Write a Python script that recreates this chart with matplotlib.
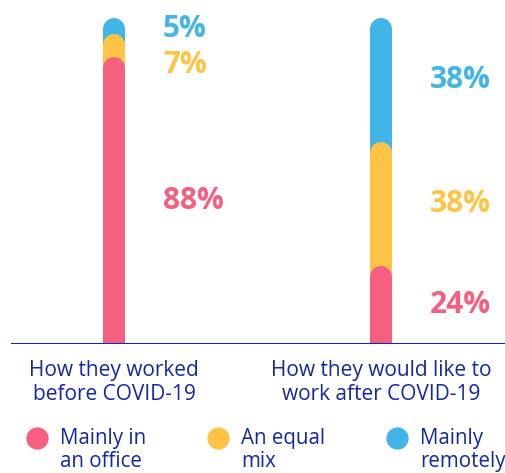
import matplotlib
matplotlib.use("Agg")
import matplotlib.pyplot as plt
from matplotlib.lines import Line2D
import numpy as np

plt.rcParams['font.family'] = ['Open Sans', 'DejaVu Sans']

# share of people by working pattern (%)
groups = ["How they worked\nbefore COVID-19", "How they would like to\nwork after COVID-19"]
series = ["Mainly in\nan office", "An equal\nmix", "Mainly\nremotely"]
office = [88, 24]
mixed = [7, 38]
remote = [5, 38]

colors = ["#f65f7f", "#ffc445", "#41b6e6"]
navy = "#1428a0"

W, H = 505, 473
fig = plt.figure(figsize=(W / 100, H / 100), dpi=100)

# axes placed in pixel terms: baseline at y=344 from the top
bottom_px = H - 344
px_per_unit = 3.26
ytop = 105
ax = fig.add_axes([11 / W, bottom_px / H, (W - 11) / W, ytop * px_per_unit / H])
ax.set_xlim(-103 / 267, 1 + 124 / 267)
ax.set_ylim(0, ytop)
ax.axis("off")
ax.axhline(0, color=navy, lw=2.2, zorder=5)

bar_px = 22
lw = bar_px * 72 / 100
r = (bar_px / 2) / px_per_unit  # cap radius in data units

values = np.array([office, mixed, remote])
tops = np.cumsum(values, axis=0)
bases = tops - values

# longest segment first so each rounded top sits over the one above it
for i in reversed(range(len(series))):
    for j, x in enumerate(range(len(groups))):
        ax.plot([x, x], [-5, tops[i, j] - r], color=colors[i], lw=lw,
                solid_capstyle="round", zorder=2)

# value labels next to each bar
nudge = {(1, 0): -6.0, (2, 0): -1.0}
for i in range(len(series)):
    for j in range(len(groups)):
        y = (bases[i, j] + tops[i, j]) / 2 + nudge.get((i, j), 0)
        ax.text(j + 0.1835, y, f"{values[i, j]}%", color=colors[i],
                fontsize=21.5, fontweight="bold", ha="left", va="center")

# group names under the baseline
for j, name in enumerate(groups):
    ax.text(j, -5.0, name, color=navy, fontsize=15, ha="center", va="top",
            linespacing=1.14)

# legend row
leg_x = [37, 218, 397]
for k, name in enumerate(series):
    fig.add_artist(Line2D([leg_x[k] / W], [1 - 438 / H], marker="o", ms=15,
                          color=colors[k], lw=0, transform=fig.transFigure))
    fig.text((leg_x[k] + 23) / W, 1 - 428 / H, name, color=navy, fontsize=14.8,
             ha="left", va="top", linespacing=1.14)

fig.savefig("out.png", dpi=100)
